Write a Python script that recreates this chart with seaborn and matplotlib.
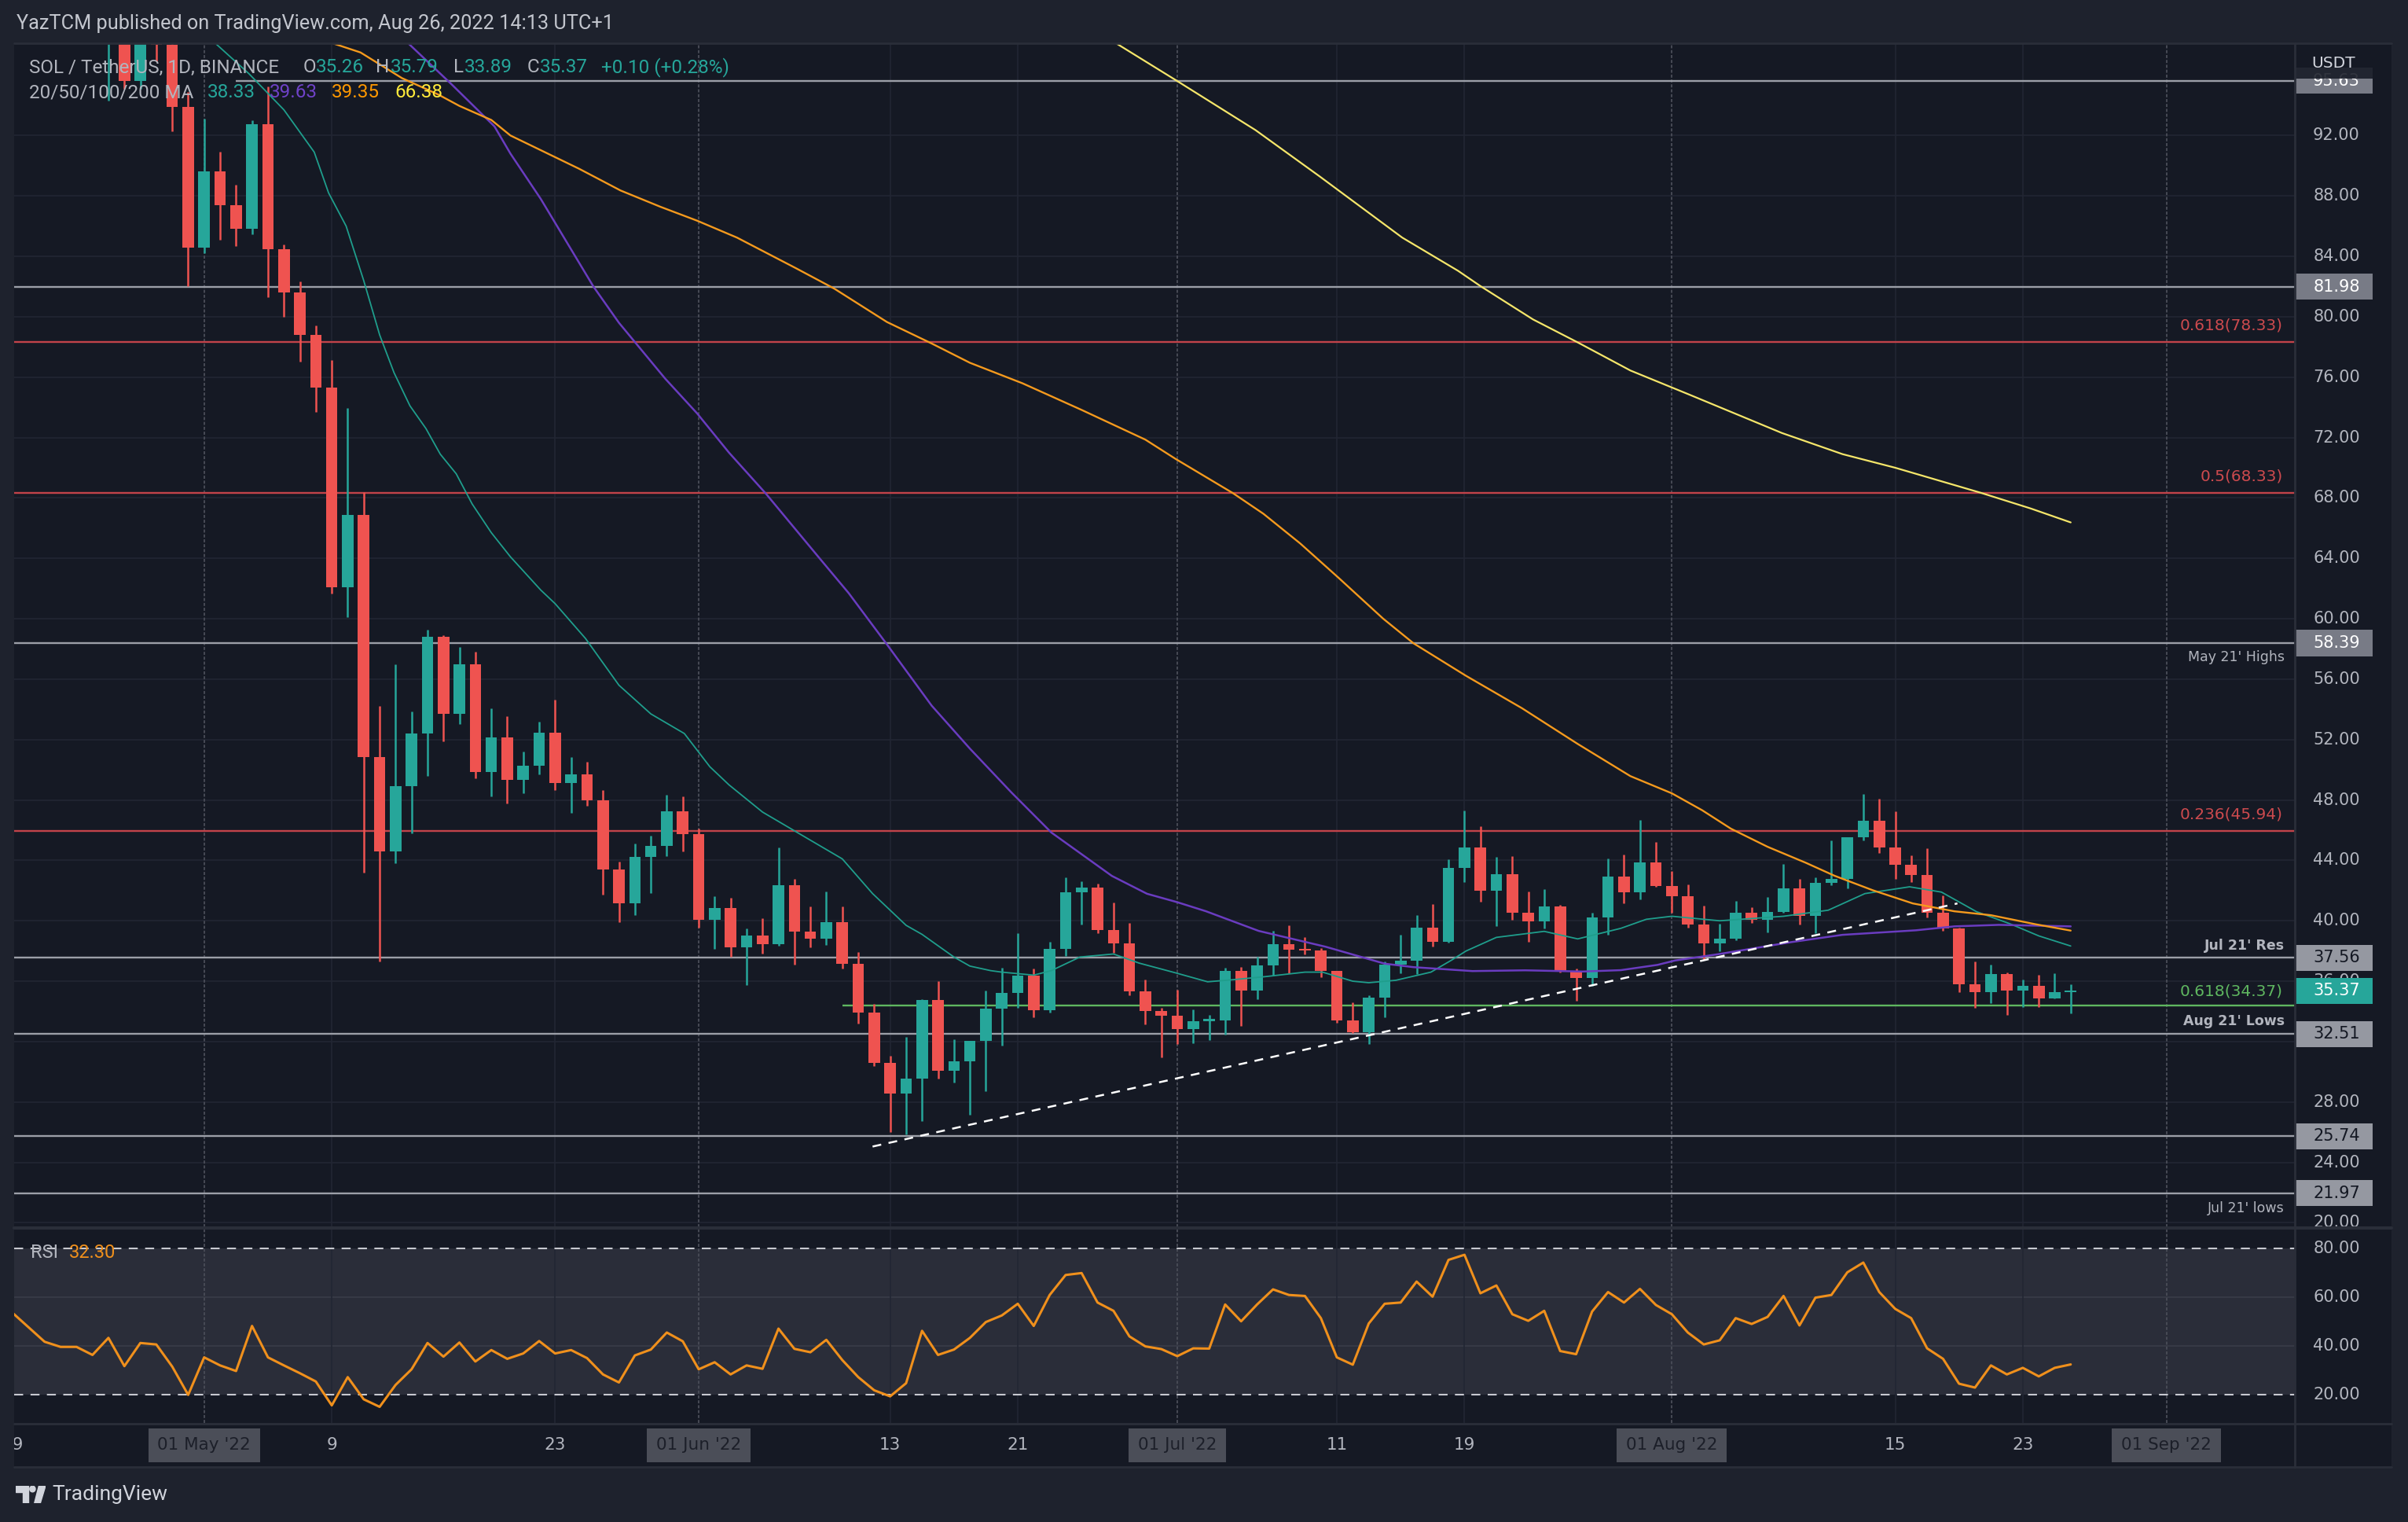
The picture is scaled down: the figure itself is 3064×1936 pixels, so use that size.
import matplotlib
matplotlib.use("Agg")
import matplotlib.pyplot as plt
from matplotlib.patches import Rectangle, Polygon, Circle
from matplotlib.lines import Line2D
import numpy as np
import pandas as pd
import seaborn as sns

# daily candles, day 0 = 19 Apr 2022, last = 26 Aug 2022
opens = [101.5, 104.5, 102.5, 101.2, 100.6, 100.4, 99.0, 100.8, 95.6, 98.7,
         98.0, 93.9, 84.6, 89.6, 87.4, 85.85, 92.73, 84.48, 81.61, 78.82,
         75.33, 62.09, 66.85, 50.86, 44.57, 48.89, 52.38, 58.78, 53.72, 56.96,
         49.85, 52.16, 49.33, 50.29, 52.48, 49.11, 49.67, 47.97, 43.41, 41.16,
         44.23, 44.97, 47.23, 45.74, 40.04, 40.86, 38.23, 39.00, 38.46, 42.37,
         39.28, 38.81, 39.93, 37.14, 33.91, 30.59, 28.54, 29.54, 34.77, 30.05,
         30.70, 32.03, 34.19, 35.23, 36.39, 34.07, 38.16, 41.91, 42.22, 39.38,
         38.49, 35.32, 34.03, 33.72, 32.82, 33.37, 33.41, 36.70, 35.37, 37.02,
         38.47, 38.08, 38.04, 36.67, 33.39, 32.64, 34.93, 37.12, 37.38, 39.55,
         38.60, 43.52, 44.88, 41.98, 43.11, 40.51, 39.96, 40.93, 36.61, 36.21,
         40.24, 42.91, 41.90, 43.84, 42.30, 41.62, 39.75, 38.52, 38.83, 40.55,
         40.06, 40.60, 42.16, 40.32, 42.49, 42.75, 45.51, 46.60, 44.83, 43.71,
         43.03, 40.53, 39.49, 35.78, 35.26, 36.45, 35.36, 35.67, 34.86, 35.26]
highs = [106.0, 107.0, 106.0, 103.0, 101.5, 101.0, 101.5, 101.8, 99.5, 100.5,
         98.6, 94.9, 93.1, 90.9, 88.75, 93.03, 95.26, 84.77, 82.32, 79.42,
         77.11, 73.95, 68.41, 54.24, 56.96, 53.87, 59.26, 58.9, 58.15, 57.81,
         54.05, 53.57, 51.20, 53.20, 54.66, 50.85, 50.55, 48.67, 43.93, 45.09,
         45.62, 48.36, 48.22, 46.09, 41.62, 41.53, 39.51, 40.18, 44.88, 42.79,
         40.97, 41.95, 40.93, 37.91, 34.49, 31.05, 32.33, 34.82, 35.98, 32.14,
         32.07, 35.40, 36.90, 39.20, 36.86, 38.61, 42.88, 42.62, 42.47, 41.23,
         39.88, 36.13, 34.21, 35.42, 34.15, 33.77, 36.90, 36.95, 37.64, 39.31,
         39.72, 38.92, 38.18, 36.70, 34.62, 35.09, 37.33, 39.10, 40.40, 41.08,
         44.05, 47.3, 46.27, 44.25, 44.30, 41.92, 42.11, 41.07, 36.85, 40.55,
         44.14, 44.40, 46.66, 45.20, 43.27, 42.42, 40.98, 39.82, 41.33, 40.88,
         41.55, 43.74, 42.75, 42.86, 45.30, 45.51, 48.37, 48.06, 47.23, 44.31,
         44.78, 41.66, 39.52, 37.28, 37.08, 36.56, 36.09, 36.40, 36.50, 35.79]
lows = [100.0, 101.5, 100.5, 99.5, 99.5, 98.5, 94.3, 95.1, 95.1, 96.9,
        92.3, 82.0, 84.2, 85.1, 84.66, 85.48, 81.31, 80.01, 77.04, 73.69,
        61.68, 60.12, 43.19, 37.3, 43.83, 45.80, 49.59, 51.90, 53.05, 49.41,
        48.22, 47.77, 48.43, 49.69, 48.64, 47.13, 47.60, 41.72, 39.93, 40.39,
        41.83, 44.27, 44.58, 39.53, 38.14, 37.63, 35.75, 37.84, 38.35, 37.12,
        38.25, 38.42, 36.84, 33.19, 30.40, 26.03, 25.87, 26.75, 29.54, 29.28,
        27.15, 28.70, 31.72, 34.24, 33.63, 33.93, 37.68, 39.76, 39.19, 37.90,
        35.07, 33.13, 30.96, 31.83, 31.90, 32.12, 32.47, 33.04, 34.81, 36.37,
        36.51, 37.76, 36.25, 33.25, 32.59, 31.83, 33.60, 36.50, 36.46, 38.28,
        38.53, 42.54, 41.27, 39.64, 40.05, 38.60, 39.49, 36.57, 34.72, 35.69,
        39.07, 41.15, 41.42, 42.25, 40.55, 39.54, 37.46, 37.98, 38.71, 39.85,
        39.23, 40.55, 39.73, 39.16, 42.35, 42.14, 45.32, 44.49, 42.75, 42.54,
        40.20, 39.33, 35.26, 34.21, 34.54, 33.75, 34.28, 34.28, 34.86, 33.89]
closes = [104.5, 102.5, 101.2, 100.6, 100.4, 99.0, 100.8, 95.6, 98.7, 98.0,
          93.9, 84.6, 89.6, 87.4, 85.85, 92.73, 84.48, 81.61, 78.82, 75.33,
          62.09, 66.85, 50.86, 44.57, 48.89, 52.38, 58.78, 53.72, 56.96, 49.85,
          52.16, 49.33, 50.29, 52.48, 49.11, 49.67, 47.97, 43.41, 41.16, 44.23,
          44.97, 47.23, 45.74, 40.04, 40.86, 38.23, 39.00, 38.46, 42.37, 39.28,
          38.81, 39.93, 37.14, 33.91, 30.59, 28.54, 29.54, 34.77, 30.05, 30.70,
          32.03, 34.19, 35.23, 36.39, 34.07, 38.16, 41.91, 42.22, 39.38, 38.49,
          35.32, 34.03, 33.72, 32.82, 33.37, 33.41, 36.70, 35.37, 37.02, 38.47,
          38.08, 38.04, 36.67, 33.39, 32.64, 34.93, 37.12, 37.38, 39.55, 38.60,
          43.52, 44.88, 41.98, 43.11, 40.51, 39.96, 40.93, 36.61, 36.21, 40.24,
          42.91, 41.90, 43.84, 42.30, 41.62, 39.75, 38.52, 38.83, 40.55, 40.06,
          40.60, 42.16, 40.32, 42.49, 42.75, 45.51, 46.60, 44.83, 43.71, 43.03,
          40.53, 39.49, 35.78, 35.26, 36.45, 35.36, 35.67, 34.86, 35.27, 35.37]
rsi_values = [53.4, 47.5, 41.6, 39.5, 39.5, 36.2, 43.2, 31.6, 41.1, 40.5,
              31.4, 19.8, 35.2, 31.9, 29.6, 48.1, 35.2, 31.9, 28.7, 25.3,
              15.5, 27.1, 18.0, 14.9, 23.9, 30.3, 41.1, 35.5, 41.3, 33.5,
              38.2, 34.6, 36.8, 41.9, 36.8, 38.2, 34.9, 28.2, 24.9, 36.0,
              38.4, 45.4, 41.8, 30.3, 33.2, 28.2, 31.9, 30.5, 47.0, 38.7,
              37.3, 42.4, 34.1, 27.1, 21.7, 19.2, 24.6, 46.1, 36.2, 38.4,
              43.2, 49.7, 52.4, 57.2, 48.1, 60.8, 69.0, 69.8, 57.7, 54.3,
              43.8, 39.7, 38.6, 35.7, 38.9, 38.8, 56.9, 50.0, 56.9, 63.1,
              60.8, 60.4, 51.3, 35.2, 32.2, 49.1, 57.2, 57.7, 66.3, 60.1,
              75.2, 77.3, 61.5, 64.7, 52.9, 50.2, 54.3, 37.8, 36.5, 54.0,
              62.0, 57.7, 63.3, 56.7, 52.9, 45.4, 40.5, 42.2, 51.3, 48.9,
              51.8, 60.4, 48.3, 59.7, 60.8, 70.1, 74.1, 62.0, 55.1, 51.3,
              38.9, 34.6, 24.4, 22.8, 31.9, 28.2, 30.9, 27.4, 30.9, 32.3]

# moving averages (day, value)
ma20_day = [12.5, 14.8, 17.0, 18.9, 19.8, 20.9, 22.0, 23.0, 23.9, 24.9, 25.9, 26.8, 27.8, 28.8,
            30.0, 31.2, 33.1, 34.0, 35.9, 38.0, 40.0, 42.1, 43.7, 44.9, 47.0, 49.9, 52.0, 53.9,
            56.0, 57.0, 59.0, 60.0, 61.3, 62.0, 64.0, 65.1, 66.9, 69.0, 70.6, 72.9, 74.9, 76.5,
            78.5, 81.0, 82.1, 84.0, 85.0, 86.7, 88.9, 90.2, 91.1, 93.0, 94.5, 96.0, 98.1, 100.8,
            102.4, 104.0, 107.0, 111.0, 113.8, 116.1, 118.9, 120.9, 123.1, 125.2, 127.0, 129.0]
ma20_val = [98.3, 96.1, 93.7, 90.9, 88.2, 86.0, 82.4, 78.8, 76.3, 74.1, 72.6, 70.9, 69.6, 67.6,
            65.7, 64.1, 61.9, 61.0, 58.7, 55.6, 53.7, 52.4, 50.2, 49.0, 47.2, 45.4, 44.1, 41.8,
            39.7, 39.1, 37.6, 37.0, 36.7, 36.6, 36.4, 36.7, 37.6, 37.8, 37.2, 36.55, 35.96, 36.1,
            36.3, 36.6, 36.6, 36.0, 35.9, 36.06, 36.6, 37.4, 38.0, 38.9, 39.1, 39.3, 38.8, 39.5,
            40.1, 40.3, 40.0, 40.3, 40.7, 41.8, 42.25, 41.9, 40.6, 39.8, 39.0, 38.33]
ma50_day = [24.7, 27.5, 30.2, 31.2, 33.1, 36.4, 38.0, 40.9, 42.9, 44.9, 47.2, 50.5, 52.4, 54.8,
            57.6, 60.0, 62.6, 65.1, 68.9, 71.1, 73.0, 74.8, 78.1, 82.3, 86.0, 87.8, 91.5, 94.8,
            98.4, 100.8, 103.1, 104.2, 106.8, 111.5, 114.7, 119.3, 121.7, 124.5, 129.0]
ma50_val = [98.2, 95.4, 92.6, 90.8, 87.8, 82.0, 79.6, 75.9, 73.6, 71.0, 68.3, 64.1, 61.7, 58.3,
            54.25, 51.4, 48.5, 45.85, 42.97, 41.79, 41.23, 40.63, 39.33, 38.28, 37.16, 36.93, 36.67, 36.72,
            36.64, 36.73, 37.08, 37.37, 37.77, 38.59, 39.07, 39.37, 39.63, 39.73, 39.63]
ma100_day = [19.8, 21.8, 24.4, 26.7, 28.0, 30.0, 31.2, 35.5, 38.1, 40.6, 42.9, 45.4, 49.1, 51.5,
             54.8, 57.6, 60.0, 63.3, 67.0, 71.0, 72.9, 76.5, 78.4, 80.7, 83.1, 85.9, 87.8, 91.1,
             94.6, 98.1, 101.4, 104.0, 105.9, 107.7, 110.0, 112.4, 114.2, 116.6, 119.1, 121.7,
             124.0, 126.8, 129.0]
ma100_val = [98.2, 97.5, 95.8, 94.7, 93.96, 93.03, 92.0, 89.8, 88.36, 87.28, 86.36, 85.24, 83.21, 81.86,
             79.65, 78.23, 76.95, 75.59, 73.83, 71.86, 70.58, 68.31, 66.95, 64.99, 62.72, 60.01, 58.38, 56.22,
             54.08, 51.71, 49.58, 48.44, 47.32, 46.1, 44.9, 43.84, 42.98, 42.02, 41.15, 40.63,
             40.37, 39.77, 39.35]
ma200_day = [68.9, 72.9, 77.9, 81.9, 87.1, 90.6, 92.0, 95.3, 98.1, 101.4, 105.1, 110.9, 114.7,
             118.0, 123.4, 126.5, 129.0]
ma200_val = [98.28, 95.67, 92.36, 89.31, 85.24, 83.04, 82.03, 79.82, 78.3, 76.44, 74.84, 72.3, 70.9,
             70.0, 68.33, 67.3, 66.38]

# drawings
gray_levels = [95.63, 81.98, 58.39, 37.56, 32.51, 25.74, 21.97]
gray_from = [14, 0, 0, 0, 0, 0, 0]
fib_levels = [78.33, 68.33, 45.94]
fib_names = ["0.618(78.33)", "0.5(68.33)", "0.236(45.94)"]
green_level = 34.37
green_name = "0.618(34.37)"
green_from = 52
trend_day = [53.9, 121.9]
trend_price = [25.05, 41.15]
notes = [("May 21' Highs", 58.39, -0.95, "normal"), ("Jul 21' Res", 37.56, 0.8, "bold"),
         ("Aug 21' Lows", 32.51, 0.82, "bold"), ("Jul 21' lows", 21.97, -1.0, "normal")]

tick_days = [0, 12, 20, 34, 43, 55, 63, 73, 83, 91, 104, 118, 126, 135]
tick_text = ["19", "01 May '22", "9", "23", "01 Jun '22", "13", "21", "01 Jul '22",
             "11", "19", "01 Aug '22", "15", "23", "01 Sep '22"]
month_ticks = [12, 43, 73, 104, 135]
price_ticks = list(range(20, 96, 4))
rsi_ticks = [80, 60, 40, 20]

sns.set_theme(style="dark")
plt.rcParams["font.family"] = ["DejaVu Sans"]

W, H = 3064, 1936
BG = "#151924"
OUTER = "#1e222d"
GRID = "#222633"
SEP = "#2a2e39"
UP = "#26a69a"
DOWN = "#ef5350"
TXT = "#b2b5be"
XMIN, XMAX = 0.09, 143.05


def fbox(x0, y0, x1, y1):
    return [x0 / W, 1 - y1 / H, (x1 - x0) / W, (y1 - y0) / H]


fig = plt.figure(figsize=(W / 100, H / 100), dpi=100, facecolor=OUTER)
fig.add_artist(Rectangle((18 / W, 1 - 1866 / H), 3025 / W, 1811 / H, transform=fig.transFigure,
                         facecolor=BG, edgecolor="none", zorder=-5))

ax = fig.add_axes(fbox(18, 55, 2920, 1561))
ax_px = fig.add_axes(fbox(2920, 55, 3043, 1561), sharey=ax)
ax_rsi = fig.add_axes(fbox(18, 1563, 2920, 1810), sharex=ax)
ax_rpx = fig.add_axes(fbox(2920, 1563, 3043, 1810), sharey=ax_rsi)
ax_time = fig.add_axes(fbox(18, 1811, 2920, 1866), sharex=ax)

for a in (ax, ax_px, ax_rsi, ax_rpx, ax_time):
    a.set_facecolor(BG)
    for s in a.spines.values():
        s.set_visible(False)
    a.grid(False)
    a.tick_params(left=False, bottom=False, right=False, top=False,
                  labelleft=False, labelbottom=False)

# grid
for p in price_ticks:
    ax.axhline(p, color=GRID, lw=1.2, zorder=1)
ax_rsi.axhspan(20, 80, color="#2a2d39", zorder=0.5, lw=0)
for v in (40, 60):
    ax_rsi.axhline(v, color="#393c48", lw=1.2, zorder=1)
for d in tick_days:
    for a in (ax, ax_rsi):
        if d in month_ticks:
            a.axvline(d, color="#474a55", lw=1.4, ls=(0, (2, 1.2)), zorder=1)
        else:
            a.axvline(d, color=GRID, lw=1.2, zorder=1)

# horizontal drawings
for lv, d0 in zip(gray_levels, gray_from):
    ax.hlines(lv, d0, XMAX, color="#9c9fa8", lw=1.7, zorder=2)
for lv, name in zip(fib_levels, fib_names):
    ax.axhline(lv, color="#c2434a", lw=1.7, zorder=2)
    ax.text(142.3, lv + 1.1, name, ha="right", va="center", color="#cc4a4e", fontsize=14.5, zorder=8)
ax.hlines(green_level, green_from, XMAX, color="#5fb760", lw=1.7, zorder=2)
ax.text(142.3, green_level + 0.95, green_name, ha="right", va="center", color="#5fb760", fontsize=14.5, zorder=8)
for txt, lv, off, wt in notes:
    ax.text(142.4, lv + off, txt, ha="right", va="center", color=TXT, fontsize=12.5, weight=wt, zorder=8)

# candles
days = np.arange(len(opens))
o = np.array(opens)
c = np.array(closes)
colors = np.where(c >= o, UP, DOWN)
ax.vlines(days, lows, highs, colors=colors, lw=1.8, zorder=4)
ax.bar(days, np.maximum(np.abs(c - o), 0.12), bottom=np.minimum(o, c), width=0.72,
       color=colors, linewidth=0, zorder=5)

# moving averages
for dd, vv, col, lw in [(ma20_day, ma20_val, "#1f9e8c", 1.3), (ma50_day, ma50_val, "#6a3cc0", 1.8),
                        (ma100_day, ma100_val, "#f59a1d", 1.7), (ma200_day, ma200_val, "#f5e66a", 1.6)]:
    sns.lineplot(x=dd, y=vv, ax=ax, color=col, linewidth=lw, sort=False, estimator=None, zorder=6)

ax.plot(trend_day, trend_price, color="white", lw=1.8, ls=(0, (4.5, 3.8)), zorder=7)

# RSI
sns.lineplot(x=days, y=rsi_values, ax=ax_rsi, color="#f0901c", linewidth=2.2, zorder=5)
for v in (80, 20):
    ax_rsi.axhline(v, color="#c7c9d0", lw=1.5, ls=(0, (5.5, 4.5)), zorder=3)

for a in (ax, ax_rsi, ax_time):
    a.set_xlabel("")
    a.set_ylabel("")
ax.set_xlim(XMIN, XMAX)
ax.set_ylim(19.71, 98.11)
ax_rsi.set_ylim(8.29, 87.97)
ax_time.set_ylim(0, 1)
ax_px.set_xlim(0, 1)
ax_rpx.set_xlim(0, 1)

# price scale
for p in price_ticks:
    ax_px.text(0.43, p, f"{p:.2f}", ha="center", va="center", color=TXT, fontsize=15, zorder=2, clip_on=True)
box_vals = gray_levels + [closes[-1]]
box_face = ["#787b86", "#787b86", "#787b86", "#9598a1", "#9598a1", "#9598a1", "#9598a1", UP]
box_txt = ["#ffffff", "#ffffff", "#ffffff", "#131722", "#131722", "#131722", "#131722", "#ffffff"]
for v, fc, tc in zip(box_vals, box_face, box_txt):
    ax_px.add_patch(Rectangle((0, v - 0.86), 0.805, 1.72, facecolor=fc, edgecolor="none", zorder=3))
    ax_px.text(0.43, v, f"{v:.2f}", ha="center", va="center", color=tc, fontsize=15, zorder=4, clip_on=True)
ax_px.add_patch(Rectangle((0, 95.76), 1, 3, facecolor=BG, edgecolor="none", alpha=0.88, zorder=5))
ax_px.text(0.17, 96.8, "USDT", ha="left", va="center", color="#d1d4dc", fontsize=14.5, zorder=6)

for v in rsi_ticks:
    ax_rpx.text(0.43, v, f"{v:.2f}", ha="center", va="center", color=TXT, fontsize=15, clip_on=True)

# time scale
for d, t in zip(tick_days, tick_text):
    if d in month_ticks:
        ax_time.text(d, 0.5, t, ha="center", va="center", fontsize=15.5, color="#1c1f29", clip_on=True,
                     bbox=dict(boxstyle="square,pad=0.55", fc="#4b4e58", ec="none"))
    else:
        ax_time.text(d, 0.5, t, ha="center", va="center", fontsize=15.5, color=TXT, clip_on=True)

# separators
for (x0, y0, x1, y1, lw) in [(18, 55, 3043, 55, 2), (18, 1562, 3043, 1562, 3), (18, 1810.5, 3043, 1810.5, 2),
                             (2920, 55, 2920, 1866, 2), (18, 1866, 3043, 1866, 2)]:
    fig.add_artist(Line2D([x0 / W, x1 / W], [1 - y0 / H, 1 - y1 / H], transform=fig.transFigure,
                          color=SEP, lw=lw))


# header texts
def ftext(x, y, s, col, size=17.5, **kw):
    fig.text(x / W, 1 - y / H, s, ha="left", va="center", color=col, fontsize=size, family="Roboto", **kw)


ftext(21, 30, "YazTCM published on TradingView.com, Aug 26, 2022 14:13 UTC+1", "#c3c6ce", size=18.2)
chg = closes[-1] - closes[-2]
ftext(37, 86, "SOL / TetherUS, 1D, BINANCE", TXT)
for x, off, lab, val in [(386, 16, "O", opens[-1]), (478, 19, "H", highs[-1]),
                         (577, 14, "L", lows[-1]), (671, 16, "C", closes[-1])]:
    ftext(x, 86, lab, TXT)
    ftext(x + off, 86, f"{val:.2f}", UP)
ftext(765, 86, f"{chg:+.2f} ({chg / closes[-2] * 100:+.2f}%)", UP)
ftext(37, 118, "20/50/100/200 MA", TXT)
for x, val, col in [(264, ma20_val[-1], "#26a69a"), (343, ma50_val[-1], "#6f42c8"),
                    (422, ma100_val[-1], "#ff9800"), (502, ma200_val[-1], "#ffeb3b")]:
    ftext(x, 118, f"{val:.2f}", col)
ftext(39, 1594, "RSI", TXT, size=17)
ftext(88, 1594, f"{rsi_values[-1]:.2f}", "#f0901c", size=17)

# TradingView logo
ax_logo = fig.add_axes(fbox(20, 1890, 58, 1912))
ax_logo.axis("off")
ax_logo.set_xlim(0, 40)
ax_logo.set_ylim(0, 22)
ax_logo.add_patch(Polygon([(0, 22), (17, 22), (17, 0), (9, 0), (9, 14), (0, 14)], color="#d1d4dc"))
ax_logo.add_patch(Circle((22.5, 18), 3.8, color="#d1d4dc"))
ax_logo.add_patch(Polygon([(25, 0), (33, 0), (40, 22), (31, 22)], color="#d1d4dc"))
ftext(66, 1901, "TradingView", "#d1d4dc", size=19)

fig.savefig("out.png", dpi=100, facecolor=OUTER)
